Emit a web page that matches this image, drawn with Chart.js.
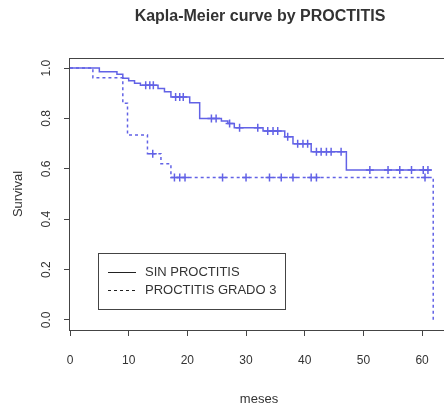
<!DOCTYPE html>
<html>
<head>
<meta charset="utf-8">
<title>Kapla-Meier curve by PROCTITIS</title>
<script src="https://cdn.jsdelivr.net/npm/chart.js@4.4.0/dist/chart.umd.min.js"></script>
<style>
  html, body { margin: 0; padding: 0; background: #fff; }
  canvas { display: block; }
</style>
</head>
<body>
<canvas id="km" width="444" height="407"></canvas>
<script>
// Datos (meses / supervivencia)
const titulo = 'Kapla-Meier curve by PROCTITIS';
const grupos = ['SIN PROCTITIS', 'PROCTITIS GRADO 3'];

// Curva SIN PROCTITIS: tiempo del escalón y supervivencia a partir de ese tiempo
const tiempoSin = [0, 5, 8, 9, 10, 11, 12, 15, 16.1, 17.2, 20.4, 22.1, 25.8, 26.9, 28, 32.9, 36.6, 38, 41.1, 47.1, 61.6];
const survSin = [1, 0.985, 0.975, 0.96, 0.95, 0.94, 0.932, 0.919, 0.906, 0.885, 0.862, 0.80, 0.79, 0.78, 0.763, 0.75, 0.727, 0.70, 0.668, 0.595, 0.595];
const censSin = [12.9, 13.6, 14.2, 18, 18.7, 19.3, 24.1, 24.9, 27.2, 28.9, 32, 33.7, 34.6, 35.4, 37.1, 38.8, 39.7, 40.5, 42, 42.8, 43.7, 44.5, 46.2, 51.1, 54.2, 56.2, 58.2, 60.2, 61];

// Curva PROCTITIS GRADO 3
const tiempoG3 = [0, 3.9, 9, 9.8, 13.2, 15.5, 17.2, 61.9];
const survG3 = [1, 0.962, 0.86, 0.734, 0.66, 0.62, 0.566, 0];
const censG3 = [14.1, 17.8, 18.7, 19.6, 26, 30, 34, 36, 38, 41.1, 42, 60.5];

// Ejes
const ticksX = [0, 10, 20, 30, 40, 50, 60];
const ticksY = [0, 0.2, 0.4, 0.6, 0.8, 1.0];
const etiquetasY = ['0.0', '0.2', '0.4', '0.6', '0.8', '1.0'];
const tituloX = 'meses';
const tituloY = 'Survival';

const azul = '#6262e6';
const gris = '#333';
const fuente = '"Liberation Sans", Arial, sans-serif';

// Convierte los arrays en puntos {x, y}
function puntos(tiempos, valores) {
    return tiempos.map((t, i) => ({ x: t, y: valores[i] }));
}

// Nivel de la curva en un tiempo dado (para las marcas de censura)
function nivel(tiempos, valores, t) {
    let v = valores[0];
    for (let i = 0; i < tiempos.length; i++) {
        if (tiempos[i] <= t) v = valores[i];
    }
    return v;
}

function censuras(cens, tiempos, valores) {
    return cens.map(t => ({ x: t, y: nivel(tiempos, valores, t) }));
}

// Textos, caja y leyenda dibujados como en R
const textosR = {
    id: 'textosR',
    afterDraw(chart) {
        const ctx = chart.ctx;
        const area = chart.chartArea;
        const sx = chart.scales.x;
        const sy = chart.scales.y;
        ctx.save();

        // caja del gráfico
        ctx.strokeStyle = '#444';
        ctx.lineWidth = 1;
        ctx.strokeRect(area.left - 0.5, area.top + 0.5, area.right - area.left + 20, area.bottom - area.top);

        ctx.fillStyle = gris;
        ctx.textAlign = 'center';
        ctx.textBaseline = 'middle';

        // título
        ctx.font = 'bold 16px ' + fuente;
        ctx.fillText(titulo, 260, 17);

        // etiquetas eje X
        ctx.font = '12px ' + fuente;
        ticksX.forEach(v => {
            ctx.fillText(String(v), sx.getPixelForValue(v), 361);
        });
        ctx.font = '13px ' + fuente;
        ctx.fillText(tituloX, 259, 399);

        // etiquetas eje Y (giradas)
        ctx.font = '12px ' + fuente;
        ticksY.forEach((v, i) => {
            ctx.save();
            ctx.translate(47, sy.getPixelForValue(v));
            ctx.rotate(-Math.PI / 2);
            ctx.fillText(etiquetasY[i], 0, 0);
            ctx.restore();
        });
        ctx.font = '13px ' + fuente;
        ctx.save();
        ctx.translate(18, 194);
        ctx.rotate(-Math.PI / 2);
        ctx.fillText(tituloY, 0, 0);
        ctx.restore();

        // leyenda
        ctx.strokeStyle = '#444';
        ctx.strokeRect(98.5, 253.5, 187, 56);
        ctx.strokeStyle = '#222';
        ctx.beginPath();
        ctx.moveTo(108, 272.5);
        ctx.lineTo(136, 272.5);
        ctx.stroke();
        ctx.setLineDash([3, 3]);
        ctx.beginPath();
        ctx.moveTo(108, 290.5);
        ctx.lineTo(136, 290.5);
        ctx.stroke();
        ctx.setLineDash([]);
        ctx.textAlign = 'left';
        ctx.fillText(grupos[0], 145, 272);
        ctx.fillText(grupos[1], 145, 290);

        ctx.restore();
    }
};

const ctx = document.getElementById('km').getContext('2d');

new Chart(ctx, {
    type: 'scatter',
    data: {
        datasets: [
            {
                label: grupos[0],
                data: puntos(tiempoSin, survSin),
                showLine: true,
                stepped: 'before',
                borderColor: azul,
                borderWidth: 1.5,
                pointRadius: 0
            },
            {
                label: grupos[1],
                data: puntos(tiempoG3, survG3),
                showLine: true,
                stepped: 'before',
                borderColor: azul,
                borderWidth: 1.5,
                borderDash: [3, 3],
                pointRadius: 0
            },
            {
                label: 'censura ' + grupos[0],
                data: censuras(censSin, tiempoSin, survSin),
                pointStyle: 'cross',
                pointRadius: 4,
                borderColor: azul,
                borderWidth: 1.5
            },
            {
                label: 'censura ' + grupos[1],
                data: censuras(censG3, tiempoG3, survG3),
                pointStyle: 'cross',
                pointRadius: 4,
                borderColor: azul,
                borderWidth: 1.5
            }
        ]
    },
    options: {
        responsive: false,
        animation: false,
        layout: {
            padding: { left: 64, top: 58, right: 0, bottom: 71 }
        },
        plugins: {
            legend: { display: false },
            title: { display: false },
            tooltip: { enabled: false }
        },
        scales: {
            x: {
                type: 'linear',
                min: 0,
                max: 62.8,
                afterBuildTicks: scale => {
                    scale.ticks = ticksX.map(v => ({ value: v }));
                },
                ticks: { display: false },
                border: { display: false },
                grid: {
                    drawOnChartArea: false,
                    drawTicks: true,
                    tickLength: 6,
                    color: '#444'
                }
            },
            y: {
                type: 'linear',
                min: -0.04,
                max: 1.04,
                afterBuildTicks: scale => {
                    scale.ticks = ticksY.map(v => ({ value: v }));
                },
                ticks: { display: false },
                border: { display: false },
                grid: {
                    drawOnChartArea: false,
                    drawTicks: true,
                    tickLength: 6,
                    color: '#444'
                }
            }
        }
    },
    plugins: [textosR]
});
</script>
</body>
</html>
